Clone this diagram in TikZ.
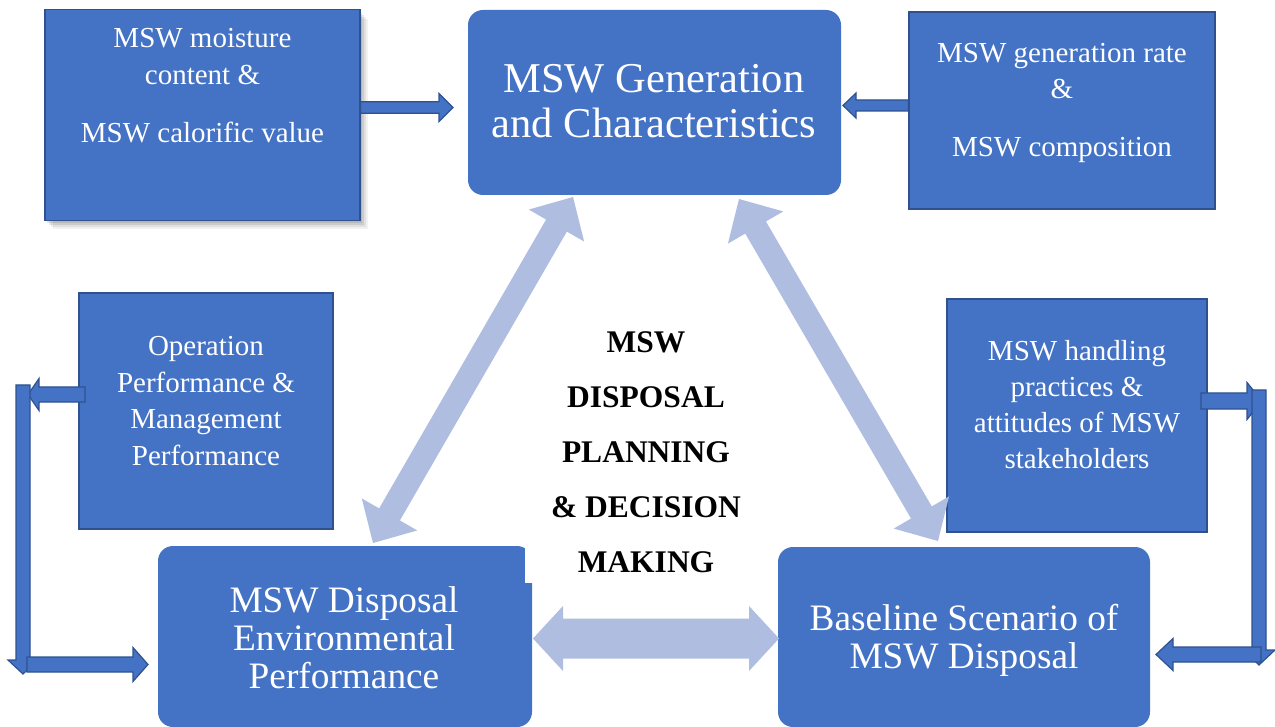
\documentclass[tikz,border=0pt]{standalone}
\usepackage{fontspec}
\setmainfont{Liberation Serif}
\usetikzlibrary{calc}

\definecolor{boxblue}{HTML}{4472C4}
\definecolor{edgeblue}{HTML}{2F528F}
\definecolor{paleblue}{RGB}{175,189,224}

% double-headed block arrow: #1 style, #2/#3 tips, #4 shaft half width, #5 head half width, #6 head length
\newcommand\wideboth[6]{%
  \coordinate (wbA) at ($(#2)!#6!(#3)$);
  \coordinate (wbB) at ($(#3)!#6!(#2)$);
  \fill[#1] (#2) -- ($(wbA)!#5!90:(#3)$) -- ($(wbA)!#4!90:(#3)$)
    -- ($(wbB)!#4!-90:(#2)$) -- ($(wbB)!#5!-90:(#2)$) -- (#3)
    -- ($(wbB)!#5!90:(#2)$) -- ($(wbB)!#4!90:(#2)$)
    -- ($(wbA)!#4!-90:(#3)$) -- ($(wbA)!#5!-90:(#3)$) -- cycle;}

% single-headed block arrow: #1 style, #2 tail, #3 tip, #4 shaft half width, #5 head half width, #6 head length
\newcommand\wideone[6]{%
  \coordinate (woP) at ($(#3)!#6!(#2)$);
  \filldraw[#1] ($(#2)!#4!90:(#3)$) -- ($(woP)!#4!-90:(#2)$) -- ($(woP)!#5!-90:(#2)$)
    -- (#3) -- ($(woP)!#5!90:(#2)$) -- ($(woP)!#4!90:(#2)$)
    -- ($(#2)!#4!-90:(#3)$) -- cycle;}

\tikzset{
  sqbox/.style={rectangle, fill=boxblue, draw=edgeblue, line width=1.2pt, inner sep=0pt},
  rndbox/.style={rectangle, fill=boxblue, rounded corners=15pt, inner sep=0pt},
  % multi-line texts are placed by the baseline of their last line
  boxtext/.style={text=white, align=center, inner sep=0pt, anchor=base},
  smalltext/.style={boxtext, font=\fontsize{29}{36.5}\selectfont},
  bluearrow/.style={fill=boxblue, draw=edgeblue, line width=1.2pt, line join=miter},
  palearrow/.style={fill=paleblue},
}

\begin{document}
\begin{tikzpicture}[x=1pt, y=-1pt]
\useasboundingbox[fill=white] (0,0) rectangle (1275,727);

% soft shadow under the moisture box
\fill[black, opacity=0.10] (47,13) rectangle (362,223);
\fill[black, opacity=0.09] (49,15) rectangle (364,225);
\fill[black, opacity=0.07] (51,17) rectangle (366,227);
\fill[black, opacity=0.05] (53,19) rectangle (368,229);

% boxes
\node[sqbox, minimum width=315pt, minimum height=211pt] (moist) at (202.5,115) {};
\node[rndbox, minimum width=373pt, minimum height=185pt] (gen) at (654.5,102.5) {};
\node[sqbox, minimum width=306pt, minimum height=197pt] (rate) at (1062,110.5) {};
\node[sqbox, minimum width=254pt, minimum height=236pt] (oper) at (206,411) {};
\node[sqbox, minimum width=260pt, minimum height=233pt] (handle) at (1077,415.5) {};
\node[rndbox, minimum width=374pt, minimum height=181pt] (envp) at (345,636.5) {};
\node[rndbox, minimum width=372pt, minimum height=180pt] (base) at (964,637) {};

% box texts
\node[smalltext, font=\fontsize{29}{37}\selectfont] (moistT) at (202.5,143)
  {MSW moisture\\content \&\\[21pt]MSW calorific value};
\node[boxtext, font=\fontsize{42.5}{45}\selectfont] (genT) at (654,138)
  {MSW Generation\\and Characteristics};
\node[smalltext, font=\fontsize{29}{36}\selectfont] (rateT) at (1062,157)
  {MSW generation rate\\\&\\[22pt]MSW composition};
\node[smalltext] (operT) at (206,465)
  {Operation\\Performance \&\\Management\\Performance};
\node[smalltext, font=\fontsize{29}{36}\selectfont] (handleT) at (1077,468)
  {MSW handling\\practices \&\\attitudes of MSW\\stakeholders};
\node[boxtext, font=\fontsize{37.3}{38}\selectfont] (envpT) at (344,688)
  {MSW Disposal\\Environmental\\Performance};
\node[boxtext, font=\fontsize{37.3}{38}\selectfont] (baseT) at (964,668)
  {Baseline Scenario of\\MSW Disposal};

% pale two-way arrows of the central cycle
\coordinate (lt) at (573,197);
\coordinate (lb) at (373,543);
\coordinate (rt) at (739,199);
\coordinate (rb) at (938,541);
\coordinate (hl) at (533,638.5);
\coordinate (hr) at (779,638.5);
\wideboth{palearrow}{lt}{lb}{12pt}{32pt}{33pt}
\wideboth{palearrow}{rt}{rb}{12pt}{32pt}{33pt}
\wideboth{palearrow}{hl}{hr}{20pt}{32.5pt}{30pt}

% central label
\node[fill=white, minimum width=243pt, minimum height=272pt, inner sep=0pt] (coreback) at (646.5,447) {};
\node[anchor=base, align=center, inner sep=0pt, font=\bfseries\fontsize{31.5}{55}\selectfont] (core) at (646,572)
  {MSW\\DISPOSAL\\PLANNING\\\& DECISION\\MAKING};

% feeding arrows into the generation box
\coordinate (aS) at (moist.east |- 0,107.5);
\coordinate (aT) at (453,107.5);
\wideone{bluearrow}{aS}{aT}{5.7pt}{14pt}{14pt}
\coordinate (cS) at (rate.west |- 0,105.5);
\coordinate (cT) at (843,105.5);
\wideone{bluearrow}{cS}{cT}{5.5pt}{12.5pt}{13pt}

% left loop: operation box to environmental box
\coordinate (l1S) at (85,394.5);
\coordinate (l1T) at (28,394.5);
\wideone{bluearrow}{l1S}{l1T}{7.5pt}{16pt}{11pt}
\coordinate (l2S) at (23,385);
\coordinate (l2T) at (23,674);
\wideone{bluearrow}{l2S}{l2T}{7pt}{15pt}{14pt}
\coordinate (l3S) at (27,664.5);
\coordinate (l3T) at (148,664.5);
\wideone{bluearrow}{l3S}{l3T}{7.5pt}{17pt}{15pt}

% right loop: handling box to baseline box
\coordinate (r1S) at (1201,401);
\coordinate (r1T) at (1262,401);
\wideone{bluearrow}{r1S}{r1T}{8pt}{18.5pt}{15pt}
\coordinate (r2S) at (1259,390);
\coordinate (r2T) at (1259,665);
\wideone{bluearrow}{r2S}{r2T}{7pt}{16pt}{15pt}
\coordinate (r3S) at (1261,654.5);
\coordinate (r3T) at (1156,654.5);
\wideone{bluearrow}{r3S}{r3T}{7.5pt}{16pt}{17pt}
\end{tikzpicture}
\end{document}
